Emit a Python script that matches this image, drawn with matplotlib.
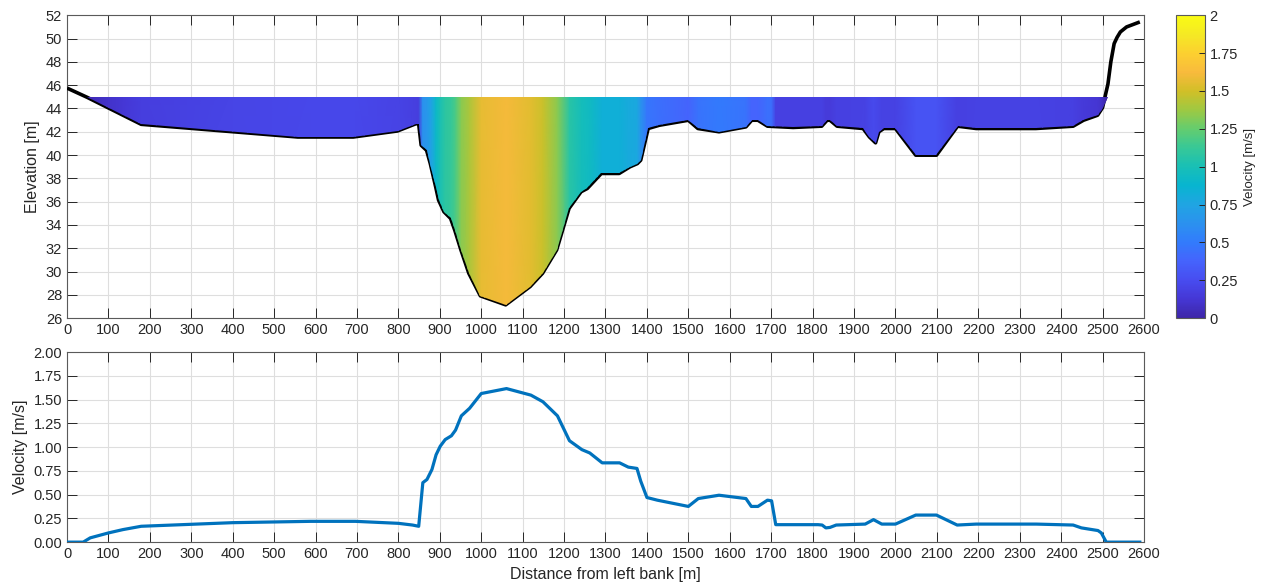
import numpy as np
import matplotlib.pyplot as plt
from matplotlib.colors import LinearSegmentedColormap
from matplotlib.ticker import MultipleLocator, FormatStrFormatter

plt.rcParams['font.family'] = ['Liberation Sans', 'DejaVu Sans']

#bed profile across the section
bed_x = [0, 49, 179, 557, 691, 798, 843, 849, 855, 868, 877, 890, 897, 910, 926, 936, 951, 970, 998, 1059,
         1118, 1148, 1182, 1212, 1241, 1256, 1290, 1333, 1359, 1377, 1385, 1403, 1430, 1500, 1523, 1574,
         1639, 1653, 1668, 1691, 1753, 1822, 1835, 1842, 1859, 1922, 1937, 1952, 1960, 1972, 2000, 2049,
         2099, 2150, 2195, 2339, 2429, 2454, 2488, 2500, 2513, 2520, 2528, 2535, 2543, 2558, 2590]
bed_z = [45.75, 44.95, 42.64, 41.55, 41.55, 42.07, 42.7, 42.65, 40.84, 40.41, 39.27, 37.27, 36.13, 35.13,
         34.56, 33.56, 31.85, 29.85, 27.91, 27.14, 28.71, 29.85, 31.85, 35.42, 36.85, 37.13, 38.42, 38.42,
         38.99, 39.27, 39.56, 42.28, 42.56, 42.99, 42.28, 42.0, 42.42, 42.99, 42.99, 42.48, 42.37, 42.48,
         42.99, 42.99, 42.48, 42.28, 41.56, 41.05, 42.0, 42.28, 42.28, 39.99, 39.99, 42.48, 42.28, 42.28,
         42.48, 42.99, 43.42, 44.08, 46.1, 48.0, 49.57, 50.1, 50.57, 51.0, 51.43]
water_level = 44.95

#depth averaged velocity
vel_x = [0, 39, 56, 100, 135, 179, 400, 588, 696, 800, 834, 849, 859, 869, 881, 891, 901, 913, 928, 938,
         952, 972, 1000, 1061, 1120, 1149, 1184, 1213, 1243, 1262, 1292, 1334, 1355, 1376, 1385, 1400,
         1425, 1500, 1524, 1574, 1639, 1652, 1668, 1691, 1701, 1711, 1813, 1823, 1832, 1842, 1857, 1927,
         1947, 1967, 2000, 2049, 2099, 2149, 2195, 2340, 2429, 2449, 2489, 2497, 2509, 2590]
vel_v = [0, 0, 0.045, 0.097, 0.132, 0.167, 0.205, 0.219, 0.219, 0.198, 0.18, 0.167, 0.626, 0.66, 0.765,
         0.92, 1.01, 1.08, 1.12, 1.18, 1.33, 1.41, 1.565, 1.617, 1.548, 1.478, 1.33, 1.068, 0.974, 0.939,
         0.835, 0.835, 0.79, 0.776, 0.643, 0.47, 0.442, 0.376, 0.459, 0.494, 0.459, 0.376, 0.376, 0.442,
         0.435, 0.184, 0.184, 0.18, 0.15, 0.155, 0.18, 0.19, 0.237, 0.19, 0.19, 0.285, 0.285, 0.18, 0.19,
         0.19, 0.18, 0.15, 0.122, 0.097, 0, 0]

#matlab parula, sampled
parula_pts = [(0.2422, 0.1504, 0.6603), (0.2706, 0.2147, 0.8364), (0.2813, 0.3006, 0.9414),
              (0.2699, 0.3892, 0.9906), (0.1963, 0.4847, 0.9892), (0.1687, 0.5703, 0.9359),
              (0.1248, 0.6459, 0.8883), (0.0297, 0.7082, 0.8163), (0.0964, 0.7500, 0.7120),
              (0.2161, 0.7843, 0.5923), (0.3909, 0.8029, 0.4354), (0.6174, 0.7876, 0.2612),
              (0.8203, 0.7498, 0.1535), (0.9728, 0.7298, 0.2394), (0.9892, 0.8136, 0.1885),
              (0.9597, 0.9135, 0.1423), (0.9769, 0.9839, 0.0805)]
parula = LinearSegmentedColormap.from_list('parula', parula_pts)

axcol = '#262626'
fig = plt.figure(figsize=(12.67, 5.88), dpi=100)
ax1 = fig.add_axes([0.0529, 0.459, 0.850, 0.515])
cax = fig.add_axes([0.928, 0.459, 0.0229, 0.515])
ax2 = fig.add_axes([0.0529, 0.078, 0.850, 0.323])

#bed line under the water patch so only half shows below the surface
ax1.plot(bed_x, bed_z, color='k', lw=2.6, zorder=3, solid_capstyle='butt')
X, Y = np.meshgrid(vel_x, [25, 46])
C = np.vstack([vel_v, vel_v])
mesh = ax1.pcolormesh(X, Y, C, shading='gouraud', cmap=parula, vmin=0, vmax=2, zorder=4)
wet = ax1.fill_between(bed_x, np.minimum(bed_z, water_level), water_level, facecolor='none', edgecolor='none')
mesh.set_clip_path(wet.get_paths()[0], transform=ax1.transData)

ax1.set_xlim(0, 2600)
ax1.set_ylim(26, 52)
ax1.xaxis.set_major_locator(MultipleLocator(100))
ax1.yaxis.set_major_locator(MultipleLocator(2))
ax1.set_ylabel('Elevation [m]', fontsize=11.5, color=axcol)

ax2.plot(vel_x, vel_v, color=(0, 0.447, 0.741), lw=2.3, zorder=3)
ax2.set_xlim(0, 2600)
ax2.set_ylim(0, 2)
ax2.xaxis.set_major_locator(MultipleLocator(100))
ax2.yaxis.set_major_locator(MultipleLocator(0.25))
ax2.yaxis.set_major_formatter(FormatStrFormatter('%.2f'))
ax2.set_ylabel('Velocity [m/s]', fontsize=11.5, color=axcol)
ax2.set_xlabel('Distance from left bank [m]', fontsize=11.5, color=axcol)

for ax in [ax1, ax2]:
    ax.grid(True, color='#dedede', lw=0.8, zorder=0)
    ax.set_axisbelow(True)
    ax.tick_params(direction='in', top=True, right=True, length=7.5, width=0.7,
                   colors=axcol, labelsize=10.5)
    for s in ax.spines.values():
        s.set_color('#5a5a5a')
        s.set_linewidth(0.8)

cb = fig.colorbar(mesh, cax=cax)
cb.set_ticks(np.arange(0, 2.01, 0.25))
cb.set_ticklabels(['0', '0.25', '0.5', '0.75', '1', '1.25', '1.5', '1.75', '2'])
cb.ax.tick_params(direction='in', length=4, width=0.7, colors=axcol, labelsize=10.5)
cb.outline.set_edgecolor('#5a5a5a')
cb.outline.set_linewidth(0.8)
cb.set_label('Velocity [m/s]', fontsize=9.5, color=axcol)

fig.savefig('out.png', dpi=100)
